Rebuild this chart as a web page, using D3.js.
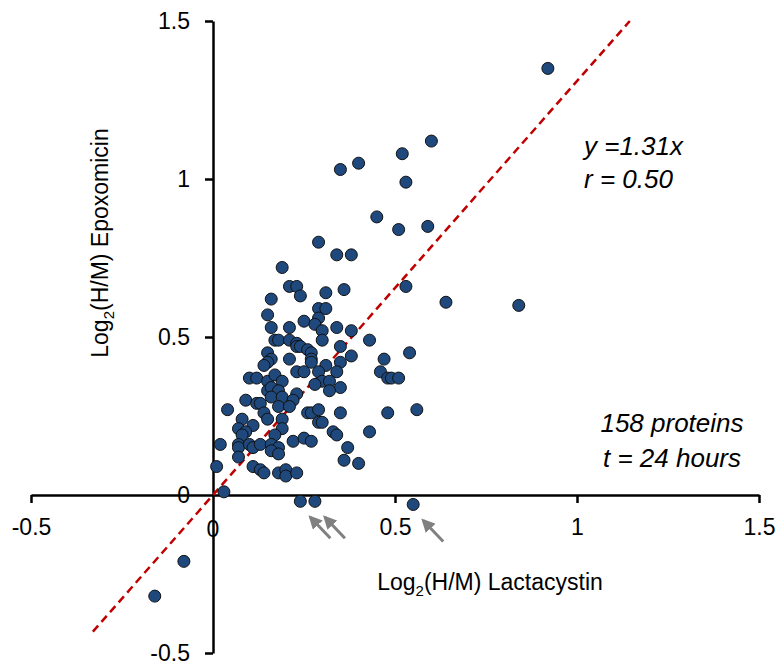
<!DOCTYPE html>
<html>
<head>
<meta charset="utf-8">
<script src="https://cdn.jsdelivr.net/npm/d3@7"></script>
<style>
  body { margin: 0; background: #fff; }
  svg text { font-family: "Liberation Sans", Arial, sans-serif; fill: #000; }
</style>
</head>
<body>
<div id="chart"></div>
<script>
// Log2(H/M) values, one entry per protein
var lactacystin = [
  0.92,0.60,0.52,0.40,0.35,0.53,0.45,0.59,0.51,0.29,
  0.34,0.38,0.19,0.21,0.23,0.36,0.31,0.24,0.16,0.53,
  0.64,0.84,0.15,0.29,0.31,0.29,0.25,0.28,0.16,0.21,
  0.34,0.38,0.30,0.30,0.43,0.17,0.18,0.21,0.23,0.23,
  0.24,0.26,0.27,0.27,0.27,0.35,0.35,0.38,0.47,0.54,
  0.15,0.16,0.15,0.14,0.21,0.31,0.23,0.25,0.29,0.34,
  0.46,0.48,0.49,0.51,0.10,0.12,0.15,0.17,0.19,0.30,
  0.32,0.28,0.35,0.32,0.15,0.16,0.18,0.23,0.09,0.12,
  0.13,0.16,0.19,0.22,0.04,0.14,0.15,0.18,0.19,0.21,
  0.26,0.27,0.29,0.29,0.30,0.35,0.48,0.56,0.08,0.11,
  0.19,0.07,0.09,0.08,0.17,0.33,0.34,0.43,0.02,0.07,
  0.07,0.10,0.11,0.13,0.16,0.18,0.16,0.18,0.07,0.22,
  0.25,0.27,0.37,0.36,0.40,0.01,0.11,0.13,0.14,0.18,
  0.20,0.20,0.23,0.03,0.24,0.28,0.55,-0.08,-0.16
];
var epoxomicin = [
  1.35,1.12,1.08,1.05,1.03,0.99,0.88,0.85,0.84,0.80,
  0.76,0.76,0.72,0.66,0.66,0.65,0.64,0.63,0.62,0.66,
  0.61,0.60,0.57,0.59,0.59,0.56,0.55,0.54,0.53,0.53,
  0.53,0.52,0.52,0.49,0.49,0.49,0.49,0.49,0.48,0.47,
  0.47,0.46,0.45,0.43,0.42,0.47,0.42,0.44,0.43,0.45,
  0.45,0.43,0.42,0.41,0.43,0.41,0.39,0.39,0.39,0.39,
  0.39,0.37,0.37,0.37,0.37,0.37,0.36,0.38,0.36,0.36,
  0.36,0.35,0.34,0.33,0.33,0.34,0.33,0.32,0.30,0.29,
  0.29,0.31,0.31,0.30,0.27,0.26,0.24,0.28,0.24,0.28,
  0.26,0.26,0.27,0.23,0.23,0.26,0.26,0.27,0.24,0.22,
  0.21,0.21,0.20,0.19,0.19,0.20,0.19,0.20,0.16,0.16,
  0.15,0.16,0.15,0.16,0.16,0.15,0.14,0.13,0.12,0.17,
  0.18,0.17,0.15,0.11,0.10,0.09,0.09,0.08,0.07,0.07,
  0.08,0.06,0.07,0.01,-0.02,-0.02,-0.03,-0.21,-0.32
];
var xTicks = [-0.5, 0, 0.5, 1, 1.5];
var yTicks = [-0.5, 0, 0.5, 1, 1.5];
var slope = 1.31;
var fitRange = [-0.33, 1.145];
var statLines = ["y =1.31x", "r = 0.50"];
var infoLines = ["158 proteins", "t = 24 hours"];

var width = 783, height = 672;
var svg = d3.select('#chart').append('svg').attr('width', width).attr('height', height);

var x = d3.scaleLinear().domain([-0.5, 1.5]).range([31, 759]);
var y = d3.scaleLinear().domain([-0.5, 1.5]).range([653, 21]);

var fmt = function (d) { return d === 0 ? '0' : String(d); };

// axes cross at zero
var xAxis = svg.append('g').attr('transform', 'translate(0,' + y(0) + ')')
  .call(d3.axisBottom(x).tickValues(xTicks.filter(function (d) { return d !== 0; }))
    .tickSize(8).tickSizeOuter(0).tickFormat(fmt));
var yAxis = svg.append('g').attr('transform', 'translate(' + x(0) + ',0)')
  .call(d3.axisLeft(y).tickValues(yTicks.filter(function (d) { return d !== 0; }))
    .tickSize(8).tickSizeOuter(0).tickFormat(fmt));

[xAxis, yAxis].forEach(function (g) {
  g.select('.domain').attr('stroke', '#000').attr('stroke-width', 2.5);
  g.selectAll('.tick line').attr('stroke', '#000').attr('stroke-width', 2.5);
  g.selectAll('.tick text').attr('font-size', 23).attr('font-family', '"Liberation Sans", Arial, sans-serif').attr('fill', '#000');
});
xAxis.selectAll('.tick text').attr('y', 24);
yAxis.selectAll('.tick text').attr('x', -23);

// zero labels for both axes
svg.append('text').attr('x', x(0)).attr('y', y(0) + 42).attr('text-anchor', 'middle')
  .attr('font-size', 23).text('0');
svg.append('text').attr('x', x(0) - 23).attr('y', y(0) + 8).attr('text-anchor', 'end')
  .attr('font-size', 23).text('0');

// fitted line
svg.append('line')
  .attr('x1', x(fitRange[0])).attr('y1', y(slope * fitRange[0]))
  .attr('x2', x(fitRange[1])).attr('y2', y(slope * fitRange[1]))
  .attr('stroke', '#c00000').attr('stroke-width', 2.5).attr('stroke-dasharray', '8,5');

// points
var points = lactacystin.map(function (v, i) { return { x: v, y: epoxomicin[i] }; });
svg.selectAll('circle.pt')
  .data(points)
  .enter()
  .append('circle')
  .attr('class', 'pt')
  .attr('cx', function (d) { return x(d.x); })
  .attr('cy', function (d) { return y(d.y); })
  .attr('r', 6)
  .attr('fill', '#1f497d')
  .attr('stroke', '#111')
  .attr('stroke-width', 1);

// grey arrows pointing at the negative-y points right of zero
svg.append('defs').append('marker')
  .attr('id', 'arr').attr('viewBox', '0 0 10 10').attr('refX', 8).attr('refY', 5)
  .attr('markerWidth', 4.5).attr('markerHeight', 4.5).attr('orient', 'auto')
  .append('path').attr('d', 'M0,0 L10,5 L0,10 z').attr('fill', '#808080');
var flagged = points.filter(function (d) { return d.x > 0 && d.y < 0; });
svg.selectAll('line.arrow')
  .data(flagged)
  .enter()
  .append('line')
  .attr('class', 'arrow')
  .attr('x1', function (d) { return x(d.x) + 30; })
  .attr('y1', function (d) { return y(d.y) + 37; })
  .attr('x2', function (d) { return x(d.x) + 10; })
  .attr('y2', function (d) { return y(d.y) + 16; })
  .attr('stroke', '#808080').attr('stroke-width', 3)
  .attr('marker-end', 'url(#arr)');

// axis titles
var xt = svg.append('text').attr('x', 490).attr('y', 590).attr('text-anchor', 'middle').attr('font-size', 23);
xt.append('tspan').text('Log');
xt.append('tspan').attr('font-size', 15).attr('dy', 6).text('2');
xt.append('tspan').attr('dy', -6).text('(H/M) Lactacystin');

var yt = svg.append('text').attr('transform', 'translate(108,243) rotate(-90)').attr('text-anchor', 'middle').attr('font-size', 23);
yt.append('tspan').text('Log');
yt.append('tspan').attr('font-size', 15).attr('dy', 6).text('2');
yt.append('tspan').attr('dy', -6).text('(H/M) Epoxomicin');

// annotations
svg.selectAll('text.stat').data(statLines).enter().append('text')
  .attr('class', 'stat').attr('x', 584).attr('y', function (d, i) { return 155 + i * 33; })
  .attr('font-size', 26).attr('font-style', 'italic').text(function (d) { return d; });
svg.selectAll('text.info').data(infoLines).enter().append('text')
  .attr('class', 'info').attr('x', 672).attr('y', function (d, i) { return 432 + i * 35; })
  .attr('text-anchor', 'middle')
  .attr('font-size', 26).attr('font-style', 'italic').text(function (d) { return d; });
</script>
</body>
</html>
